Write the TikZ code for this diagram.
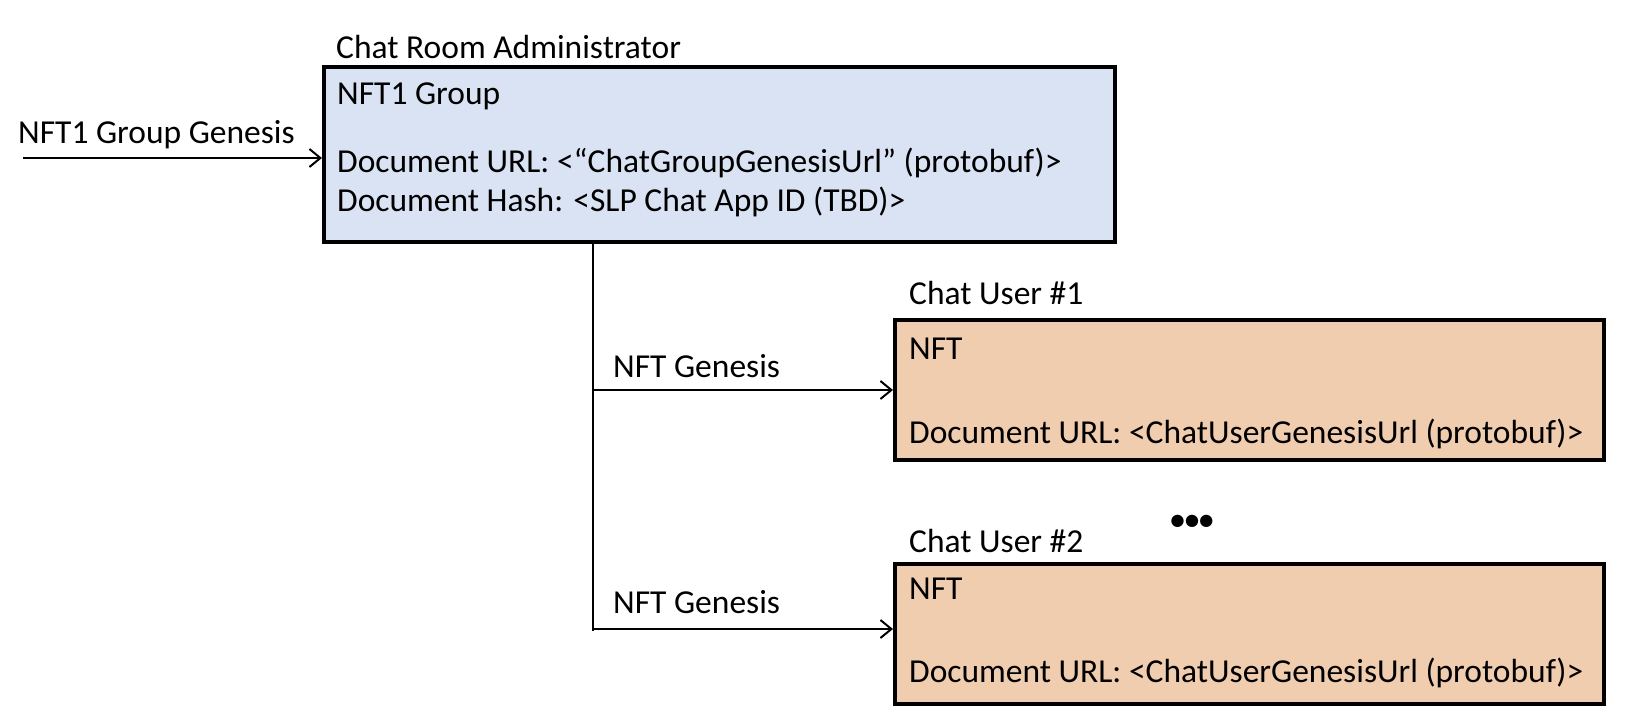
\documentclass[tikz,border=0pt]{standalone}
\usepackage{fontspec}
\setmainfont{Carlito}
\usetikzlibrary{arrows.meta}
\definecolor{adminblue}{HTML}{DAE3F3}
\definecolor{usertan}{HTML}{F1CDB0}
\tikzset{
  box/.style={draw=black, line width=4pt, anchor=north west, inner sep=0pt},
  txt/.style={anchor=west, inner sep=0pt, font=\fontsize{33.5}{40}\selectfont},
  conn/.style={line width=2pt, draw=black},
  arr/.style={conn, -{Straight Barb[length=11pt,width=18pt,line width=2pt]}}
}
\begin{document}
\begin{tikzpicture}[x=1pt,y=-1pt]
\useasboundingbox (0,0) rectangle (1628,724);
% boxes
\node[box, fill=adminblue, minimum width=791pt, minimum height=175pt] (admin) at (322,65) {};
\node[box, fill=usertan, minimum width=709pt, minimum height=140pt] (u1) at (893,318) {};
\node[box, fill=usertan, minimum width=709pt, minimum height=140pt] (u2) at (893,562) {};
% titles
\node[txt] (admtitle) at (336,47) {Chat Room Administrator};
\node[txt] (u1title) at (909,293) {Chat User \#1};
\node[txt] (u2title) at (909,541) {Chat User \#2};
% admin contents
\node[txt] (a1) at (337,96) {NFT1 Group};
\node[txt] (a2) at (337,163) {Document URL: <“ChatGroupGenesisUrl” (protobuf)>};
\node[txt] (a3) at (337,202) {Document Hash: <SLP Chat App ID (TBD)>};
% user contents
\node[txt] (u1a) at (909,349) {NFT};
\node[txt] (u1b) at (909,434) {Document URL: <ChatUserGenesisUrl (protobuf)>};
\node[txt] (u2a) at (909,589) {NFT};
\node[txt] (u2b) at (909,673) {Document URL: <ChatUserGenesisUrl (protobuf)>};
% dots
\node[anchor=center, inner sep=0pt, font=\fontsize{29}{35}\bfseries] (dots) at (1192,522) {•••};
% connectors
\coordinate (gstart) at (23,158);
\node[txt] (glabel) at (18,135) {NFT1 Group Genesis};
\draw[arr] (gstart) -- (gstart -| admin.west);
\coordinate (trunk) at (593,631);
\draw[conn] (trunk |- admin.south) -- (trunk);
\coordinate (b1) at (593,390);
\coordinate (b2) at (593,629);
\node[txt] (l1) at (613,366) {NFT Genesis};
\node[txt] (l2) at (613,602) {NFT Genesis};
\draw[arr] (b1) -- (b1 -| u1.west);
\draw[arr] (b2) -- (b2 -| u2.west);
\end{tikzpicture}
\end{document}
